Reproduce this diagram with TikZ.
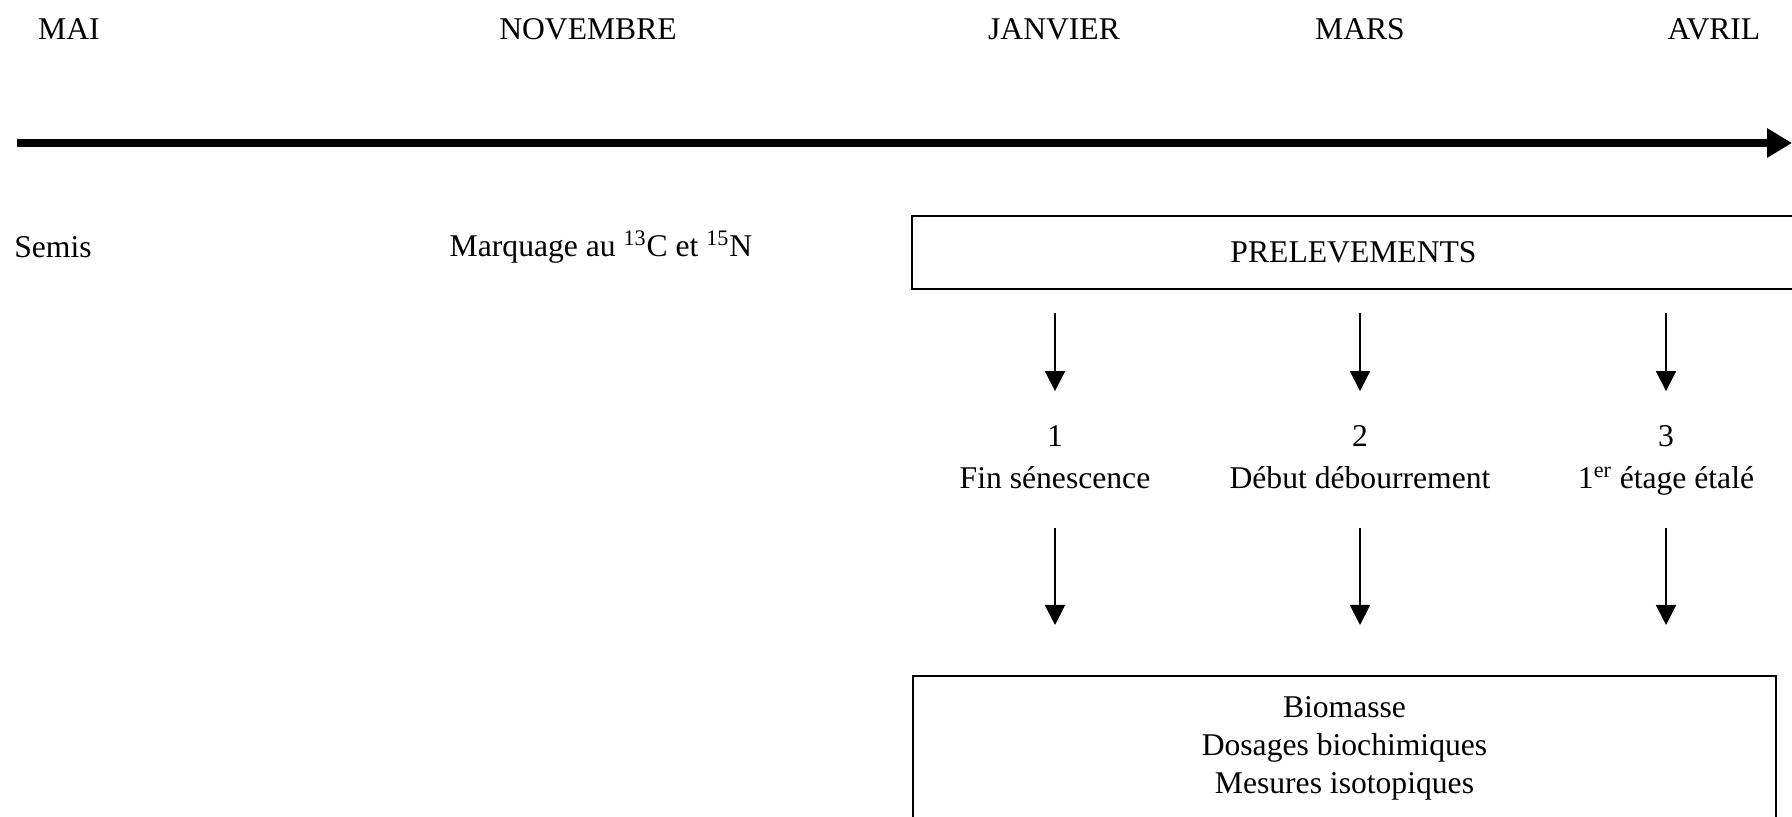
\documentclass[tikz,border=0pt]{standalone}
\usepackage{fontspec}
\setmainfont{Liberation Serif}
\usetikzlibrary{arrows.meta}

\begin{document}
\begin{tikzpicture}[font=\fontsize{18}{21.5}\selectfont,
  etiq/.style={text height=0.8em,text depth=0.25em},
  fleche/.style={-{Triangle[length=0.4cm,width=0.4cm]},line width=1.1pt},
  cadre/.style={draw,line width=1.2pt}]
\clip (0,0) rectangle (35.84,16.34);
% les mois
\node (mai) at (1.38,15.76) {MAI};
\node (nov) at (11.76,15.76) {NOVEMBRE};
\node (janv) at (21.08,15.76) {JANVIER};
\node (mars) at (27.2,15.76) {MARS};
\node (avril) at (34.28,15.76) {AVRIL};
\coordinate (debut) at (0.34,13.48);
\coordinate (fin) at (35.84,13.48);
\draw[line width=4pt,-{Triangle[length=0.5cm,width=0.56cm]}] (debut) -- (fin);
% etapes
\node (semis) at (1.06,11.40) {Semis};
\node (marq) at (12.02,11.40) {Marquage au \textsuperscript{13}C et \textsuperscript{15}N};
\node[cadre,minimum width=17.66cm,minimum height=1.46cm] (prel) at (27.07,11.29) {PRELEVEMENTS};
\node[etiq] (n1) at (21.1,7.5) {1};
\node[etiq] (n2) at (27.2,7.5) {2};
\node[etiq] (n3) at (33.32,7.5) {3};
\node[etiq] (e1) at (21.1,6.66) {Fin sénescence};
\node[etiq] (e2) at (27.2,6.66) {Début débourrement};
\node[etiq] (e3) at (33.32,6.66) {1\textsuperscript{er} étage étalé};
\node[cadre,anchor=north,minimum width=17.26cm,minimum height=2.9cm,align=center] (res) at (26.89,2.84)
  {Biomasse\\Dosages biochimiques\\Mesures isotopiques};
\foreach \i in {1,2,3} {
  \draw[fleche,shorten <=0.46cm,shorten >=0.71cm] (prel.south -| n\i) -- (n\i.north);
  \draw[fleche,shorten <=0.57cm,shorten >=1cm] (e\i.south) -- (res.north -| e\i);
}
\end{tikzpicture}
\end{document}
